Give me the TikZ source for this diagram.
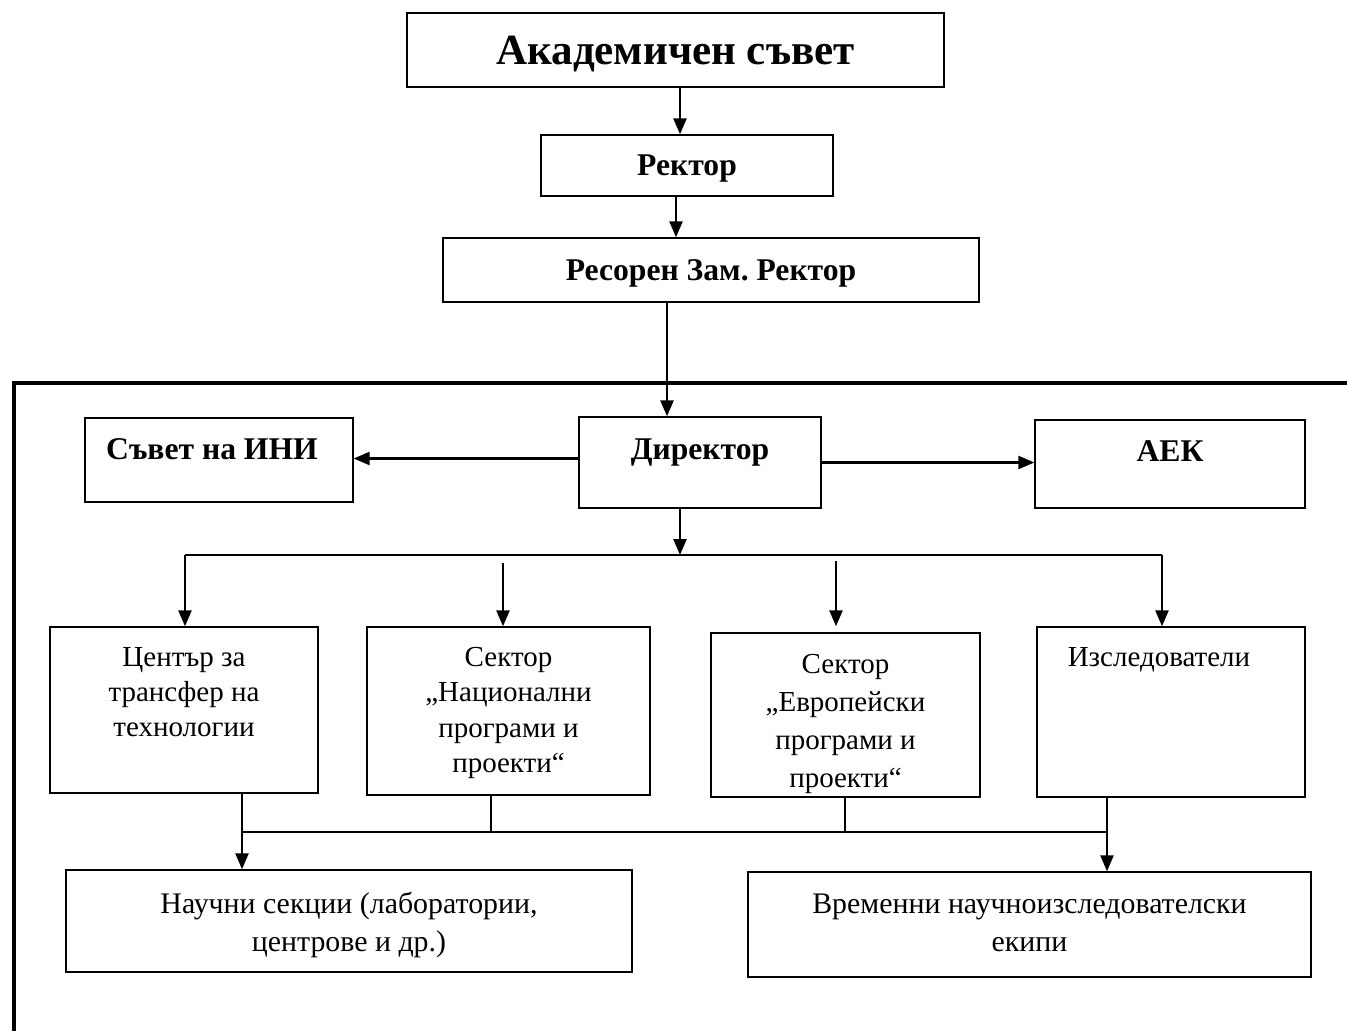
\documentclass[tikz,border=0pt]{standalone}
\usepackage{fontspec}
\setmainfont{Liberation Serif}
\usetikzlibrary{arrows.meta,positioning}

\tikzset{
  box/.style={draw, line width=0.8pt, inner sep=0pt},
  head/.style={inner sep=0pt, font=\bfseries\fontsize{18}{21}\selectfont},
  lbl/.style={align=center, inner sep=0pt, font=\fontsize{16.5}{20}\selectfont},
  lbllow/.style={align=center, inner sep=0pt, font=\fontsize{17}{22}\selectfont},
  arr/.style={line width=1.4pt, -{Triangle[length=0.32cm,width=0.26cm]}},
  link/.style={line width=0.9pt},
}

\begin{document}
\begin{tikzpicture}[x=0.02cm,y=-0.02cm]
    \useasboundingbox (0,0) rectangle (1347,1031);
    % outer frame
    \draw[line width=2.3pt] (14,1031) -- (14,383) -- (1347,383);
    %
    \node[box, text depth=0pt, minimum width=10.74cm, minimum height=1.48cm, font=\bfseries\fontsize{24.5}{28}\selectfont] (acad) at (675.5,50) {Академичен съвет};
    \node[box, head, text depth=0pt, minimum width=5.84cm, minimum height=1.22cm] (rect) at (687,165.5) {Ректор};
    \node[box, head, text depth=0pt, minimum width=10.72cm, minimum height=1.28cm] (zam) at (711,270) {Ресорен Зам.\ Ректор};
    %
    \node[box, minimum width=5.36cm, minimum height=1.68cm] (sni) at (219,460) {};
    \node[head, below=0.42cm of sni.north, xshift=-0.14cm] (snit) {Съвет на ИНИ};
    \node[box, minimum width=4.84cm, minimum height=1.82cm] (dir) at (700,462.5) {};
    \node[head, below=0.44cm of dir.north] (dirt) {Директор};
    \node[box, minimum width=5.4cm, minimum height=1.76cm] (aek) at (1170,464) {};
    \node[head, below=0.42cm of aek.north] (aekt) {АЕК};
    %
    \node[box, minimum width=5.36cm, minimum height=3.32cm] (ctr) at (184,710) {};
    \node[lbl, below=0.42cm of ctr.north] (ctrt) {Център за\\трансфер на\\технологии};
    \node[box, minimum width=5.66cm, minimum height=3.36cm] (nat) at (508.5,711) {};
    \node[lbl, below=0.42cm of nat.north] (natt) {Сектор\\„Национални\\програми и\\проекти“};
    \node[box, minimum width=5.38cm, minimum height=3.28cm] (eur) at (845.5,715) {};
    \node[lbl, below=0.44cm of eur.north, font=\fontsize{16.5}{21.5}\selectfont] (eurt) {Сектор\\„Европейски\\програми и\\проекти“};
    \node[box, minimum width=5.36cm, minimum height=3.4cm] (res) at (1171,712) {};
    \node[lbl, below=0.42cm of res.north, xshift=-0.24cm] (rest) {Изследователи};
    %
    \node[box, minimum width=11.32cm, minimum height=2.04cm] (nau) at (349,921) {};
    \node[lbllow, below=0.44cm of nau.north] (naut) {Научни секции (лаборатории,\\центрове и др.)};
    \node[box, minimum width=11.26cm, minimum height=2.1cm] (vre) at (1029.5,924.5) {};
    \node[lbllow, below=0.44cm of vre.north] (vret) {Временни научноизследователски\\екипи};
    %
    \coordinate (a1) at ([xshift=0.09cm]acad.south);
    \coordinate (a2) at ([xshift=-0.22cm]rect.south);
    \coordinate (dirin) at ([xshift=-0.66cm]dir.north);
    \coordinate (busc) at ([xshift=-0.4cm]dir.south);
    \coordinate (busL) at (185,555);
    \coordinate (busR) at (1162,555);
    \coordinate (natin) at (503,563);
    \coordinate (eurin) at (836,561);
    \coordinate (jL) at (242,832);
    \coordinate (jR) at (1107,832);
    \coordinate (t1) at (491,832);
    \coordinate (t2) at (845,832);
    %
    \draw[arr] (a1) -- (a1 |- rect.north);
    \draw[arr] (a2) -- (a2 |- zam.north);
    \draw[arr] (zam.south -| dirin) -- (dirin);
    \draw[arr] ([yshift=0.08cm]dir.west) -- ([yshift=0.08cm]dir.west -| sni.east);
    \draw[arr] (dir.east) -- (dir.east -| aek.west);
    \draw[arr] (busc) -- (busc |- busL);
    \draw[line width=1.1pt] (busL) -- (busR);
    \draw[arr] (busL) -- (busL |- ctr.north);
    \draw[arr] (natin) -- (natin |- nat.north);
    \draw[arr] (eurin) -- (eurin |- nat.north);
    \draw[arr] (busR) -- (busR |- res.north);
    %
    \draw[arr] (ctr.south -| jL) -- (jL |- nau.north);
    \draw[link] (jL) -- (jR);
    \draw[link] (nat.south -| t1) -- (t1);
    \draw[link] (eur.south -| t2) -- (t2);
    \draw[arr] (res.south -| jR) -- (jR |- vre.north);
\end{tikzpicture}
\end{document}
